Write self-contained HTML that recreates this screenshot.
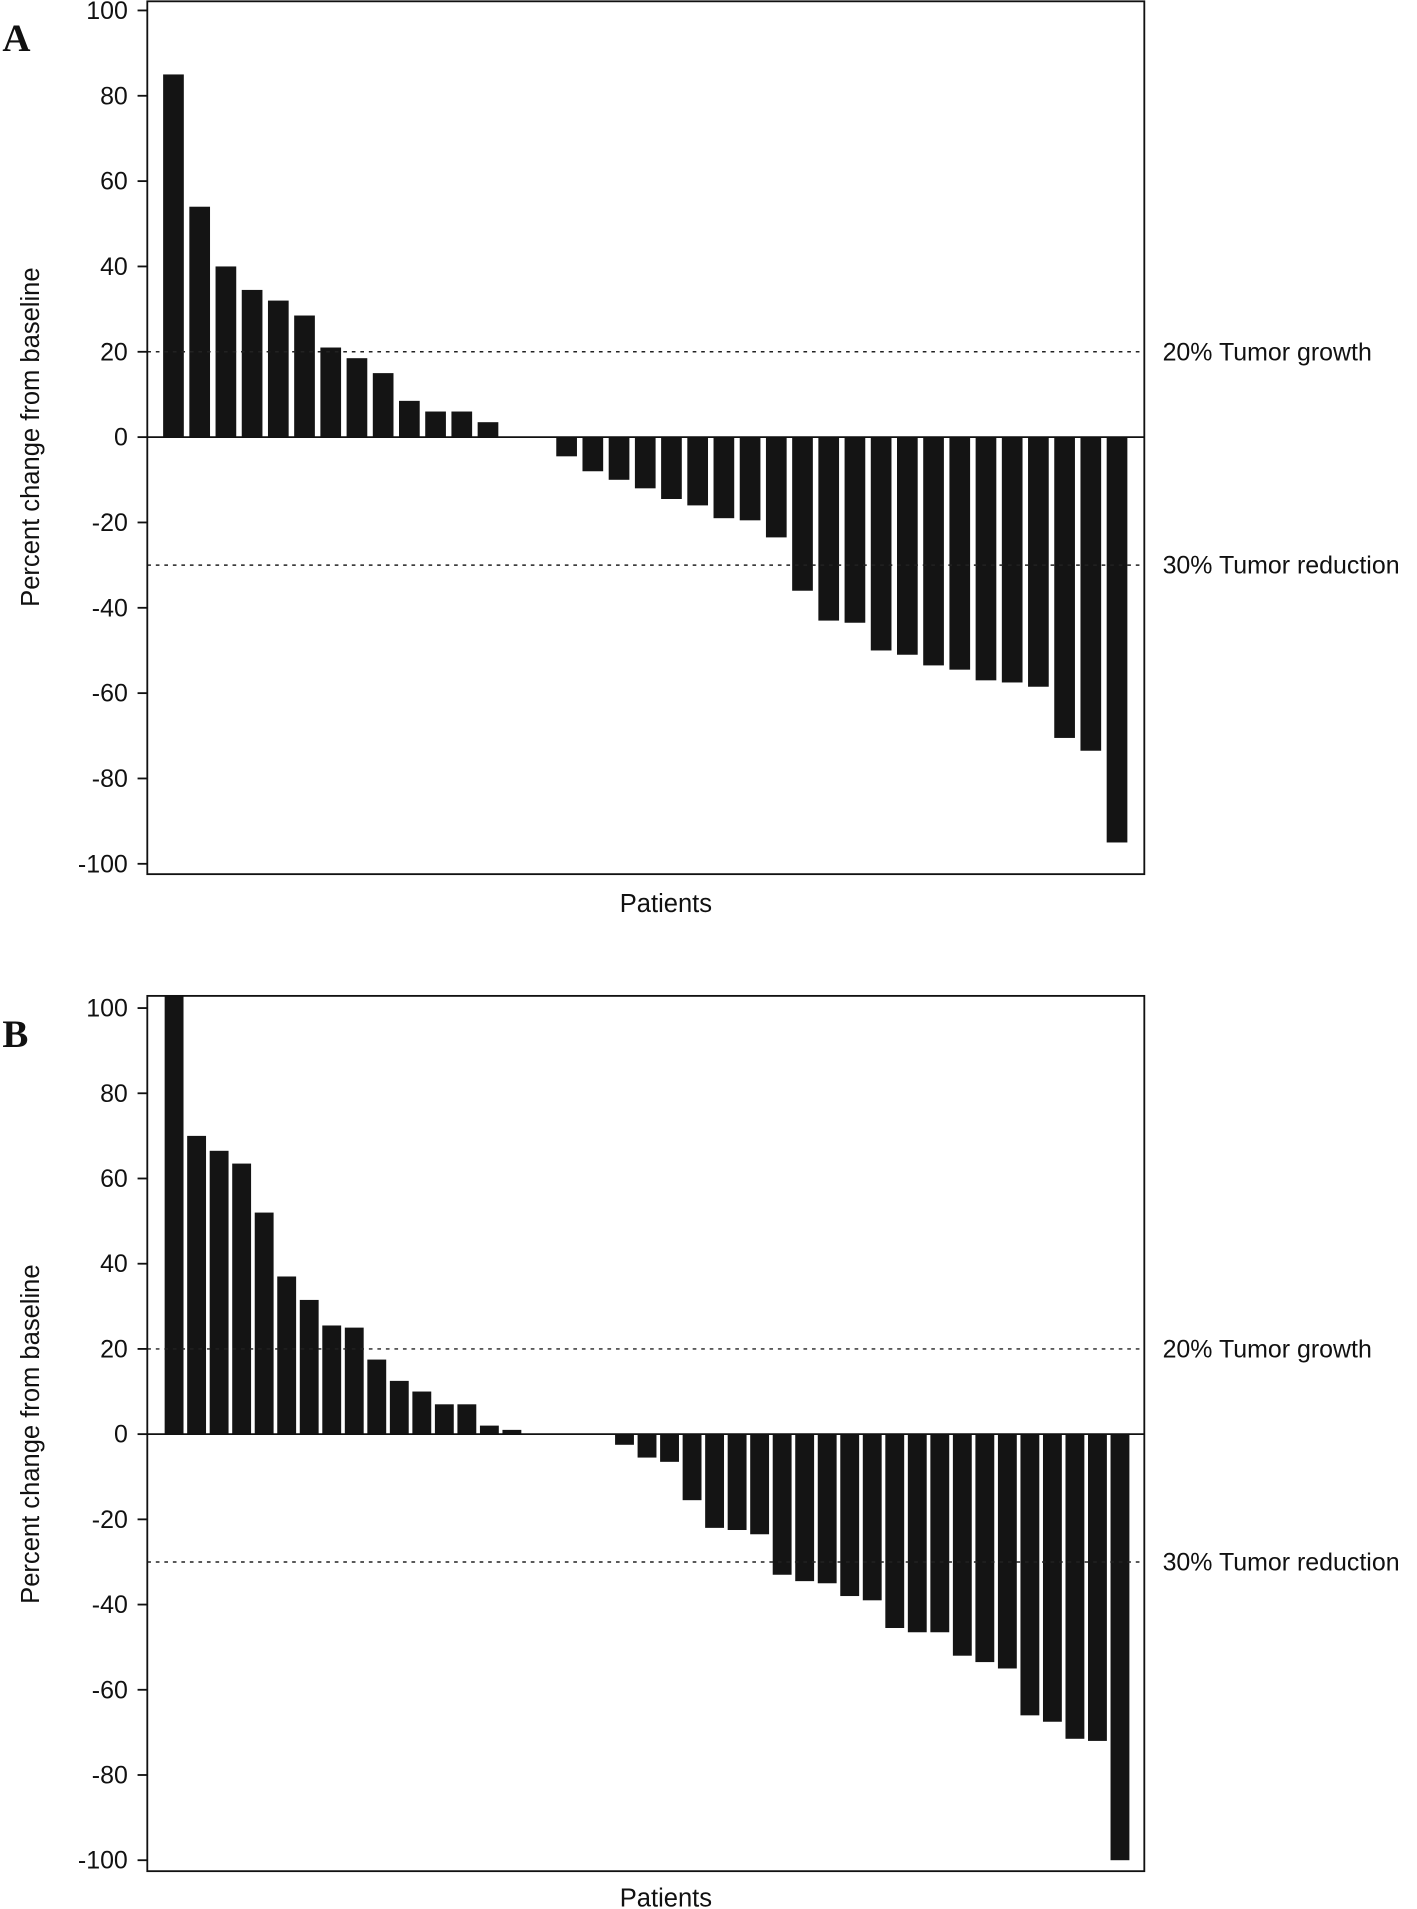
<!DOCTYPE html>
<html><head><meta charset="utf-8"><style>
html,body{margin:0;padding:0;background:#fff;}
svg{display:block;}
text{font-family:"Liberation Sans",Arial,sans-serif;fill:#111;}
</style></head><body>
<svg id="chart" width="1417" height="1909" viewBox="0 0 1164 1568" xmlns="http://www.w3.org/2000/svg">
<defs>
<clipPath id="clipA"><rect x="121" y="1" width="819" height="717"/></clipPath>
<clipPath id="clipB"><rect x="121" y="818" width="819" height="719"/></clipPath>
</defs>
</svg>
<script>
const valuesA = [85,54,40,34.5,32,28.5,21,18.5,15,8.5,6,6,3.5,0,0,-4.5,-8,-10,-12,-14.5,-16,-19,-19.5,-23.5,-36,-43,-43.5,-50,-51,-53.5,-54.5,-57,-57.5,-58.5,-70.5,-73.5,-95];
const valuesB = [103,70,66.5,63.5,52,37,31.5,25.5,25,17.5,12.5,10,7,7,2,1,0,0,0,0,-2.5,-5.5,-6.5,-15.5,-22,-22.5,-23.5,-33,-34.5,-35,-38,-39,-45.5,-46.5,-46.5,-52,-53.5,-55,-66,-67.5,-71.5,-72,-100];
const yTicks = [100,80,60,40,20,0,-20,-40,-60,-80,-100];
const refLines = [20,-30];
const refLabels = ["20% Tumor growth","30% Tumor reduction"];

const NS="http://www.w3.org/2000/svg";
const svg=document.getElementById('chart');
function mk(tag,attrs,parent){const e=document.createElementNS(NS,tag);for(const k in attrs)e.setAttribute(k,attrs[k]);(parent||svg).appendChild(e);return e;}

function panel(cfg){
  const g=mk('g',{});
  
  
  const y=v=>cfg.y0-(v*cfg.ppu);
  const x=i=>cfg.x0+i*cfg.step;
  const bg=mk('g',{'clip-path':'url(#'+cfg.clip+')'},g);
  cfg.values.forEach((v,i)=>{
    if(v===0)return;
    const r=mk('rect',{x:x(i)-cfg.bw/2,y:Math.min(y(v),y(0)),width:cfg.bw,height:Math.abs(y(v)-y(0)),fill:'#141414'},bg);
    
    
  });
  refLines.forEach((v,k)=>{
    const l=mk('line',{x1:121,x2:940,y1:y(v),y2:y(v),stroke:'#222','stroke-width':1.2,'stroke-dasharray':'3,4'},g);
    
    
    const t=mk('text',{x:955,y:y(v)+7,'font-size':20.5},g);
    t.textContent=refLabels[k];
    
    
  });
  const z=mk('line',{x1:121,x2:940,y1:y(0),y2:y(0),stroke:'#111','stroke-width':1.5},g);
  
  
  const f=mk('rect',{x:121,y:cfg.top,width:819,height:cfg.bottom-cfg.top,fill:'none',stroke:'#111','stroke-width':1.5},g);
  
  
  yTicks.forEach(v=>{
    mk('line',{x1:113,x2:121,y1:y(v),y2:y(v),stroke:'#111','stroke-width':1.5},g);
    const t=mk('text',{x:105,y:y(v)+7,'font-size':20.5,'text-anchor':'end'},g);
    t.textContent=v;
    
    
  });
  const yt=mk('text',{x:0,y:0,'font-size':21,'text-anchor':'middle',transform:'translate(32,'+(y(0))+') rotate(-90)'},g);
  yt.textContent='Percent change from baseline';
  
  
  const xt=mk('text',{x:547,y:cfg.xlab,'font-size':21,'text-anchor':'middle'},g);
  xt.textContent='Patients';
  
  
  const pl=mk('text',{x:2,y:cfg.labY,'font-size':32,'font-weight':'bold',style:'font-family:"Liberation Serif",serif'},g);
  pl.textContent=cfg.id;
  
  
}
panel({id:'A',values:valuesA,y0:359,ppu:3.505,x0:142.5,step:21.53,bw:17,top:1,bottom:718,clip:'clipA',xlab:749,labY:42});
panel({id:'B',values:valuesB,y0:1178,ppu:3.5,x0:143,step:18.5,bw:15.5,top:818,bottom:1537,clip:'clipB',xlab:1566,labY:860});
</script>
</body></html>
